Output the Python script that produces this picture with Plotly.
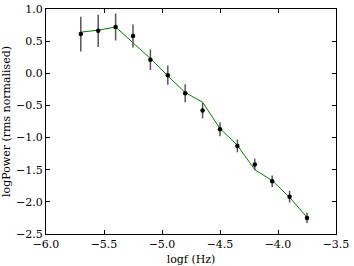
import plotly.graph_objects as go

logf = [-5.70, -5.55, -5.40, -5.25, -5.10, -4.95, -4.80, -4.65, -4.50, -4.35, -4.20, -4.05, -3.90, -3.75]
log_power = [0.61, 0.66, 0.72, 0.58, 0.21, -0.03, -0.31, -0.58, -0.87, -1.13, -1.42, -1.68, -1.92, -2.25]
power_err = [0.27, 0.25, 0.21, 0.18, 0.16, 0.15, 0.14, 0.12, 0.11, 0.10, 0.09, 0.09, 0.09, 0.08]
model = [0.64, 0.67, 0.72, 0.48, 0.23, -0.04, -0.30, -0.45, -0.86, -1.12, -1.50, -1.67, -1.93, -2.24]

x_ticks = [-6.0, -5.5, -5.0, -4.5, -4.0, -3.5]
y_ticks = [-2.5, -2.0, -1.5, -1.0, -0.5, 0.0, 0.5, 1.0]

def fmt(v):
    s = f"{v:.1f}"
    return s.replace("-", "\u2212")

font = dict(family="DejaVu Serif", size=11, color="black")

fig = go.Figure()
fig.add_trace(go.Scatter(x=logf, y=model, mode="lines",
                         line=dict(color="#008000", width=1), hoverinfo="skip"))
fig.add_trace(go.Scatter(x=logf, y=log_power, mode="markers",
                         marker=dict(color="black", size=4.5),
                         error_y=dict(type="data", array=power_err, visible=True,
                                      color="#555555", thickness=1.5, width=0)))

axis_common = dict(showgrid=False, zeroline=False, showline=True, linecolor="black",
                   linewidth=1, mirror="ticks", ticks="inside", ticklen=4,
                   tickcolor="black", tickwidth=1, tickfont=font, automargin=False)

fig.update_layout(
    width=354, height=266,
    margin=dict(l=46, r=18, t=9, b=32),
    paper_bgcolor="white", plot_bgcolor="white",
    showlegend=False,
    font=font,
    xaxis=dict(range=[-6.0, -3.5], tickvals=x_ticks, ticktext=[fmt(v) for v in x_ticks],
               title=dict(text="logf (Hz)", font=font, standoff=5), **axis_common),
    yaxis=dict(range=[-2.5, 1.0], tickvals=y_ticks, ticktext=[fmt(v) for v in y_ticks],
               title=dict(text="logPower (rms normalised)", font=font, standoff=5), **axis_common),
)

fig.write_html("out.html", config={"displayModeBar": False},
               post_script="document.body.style.margin='0';")
